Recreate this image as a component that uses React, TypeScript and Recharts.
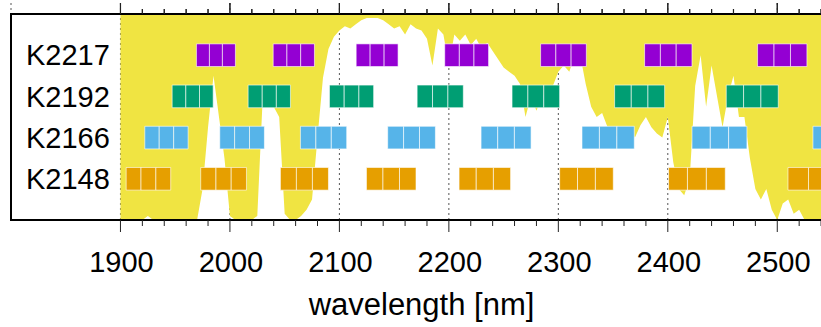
import {
  Area,
  CartesianGrid,
  ComposedChart,
  ReferenceArea,
  XAxis,
  YAxis
} from "recharts";

// atmospheric transmission sampled every 5 nm from 1900 nm (0 = opaque, 1 = clear)
const transmission = [
  0, 0, 0, 0, 0, 0.02, 0, 0, 0, 0, 0, 0, 0, 0, 0,
  0.15, 0.45, 0.7, 0.5, 0.3, 0.02, 0, 0, 0, 0, 0.02,
  0.6, 0.6, 0.55, 0.5, 0.03, 0, 0, 0.02, 0.05, 0.1,
  0.4, 0.69, 0.83, 0.89, 0.92, 0.94, 0.93, 0.95, 0.97, 0.98,
  0.98, 0.98, 0.97, 0.95, 0.93, 0.94, 0.9, 0.95, 0.93, 0.92,
  0.88, 0.75, 0.93, 0.9, 0.75, 0.9, 0.87, 0.9, 0.85, 0.88,
  0.83, 0.86, 0.82, 0.78, 0.74, 0.72, 0.7, 0.66, 0.5, 0.6,
  0.53, 0.6, 0.62, 0.65, 0.72, 0.75, 0.72, 0.8, 0.8, 0.66,
  0.55, 0.5, 0.52, 0.45, 0.42, 0.4, 0.42, 0.44, 0.4, 0.46,
  0.5, 0.45, 0.42, 0.4, 0.5, 0.28, 0.15, 0.12, 0.2, 0.65,
  0.8, 0.55, 0.75, 0.6, 0.45, 0.6, 0.7, 0.5, 0.5, 0.3,
  0.15, 0.1, 0.15, 0.05, 0, 0.08, 0.1, 0.03, 0.05, 0,
  0, 0, 0, 0, 0
];

const settings = ["K2148", "K2166", "K2192", "K2217"];
const settingColors = ["#E69F00", "#56B4E9", "#009E73", "#9400D3"];

// wavelength coverage [start, end] in nm of each detector group
const k2148 = [
  [1905.2, 1945.9], [1973.3, 2015.1], [2046.1, 2090.0], [2124.7, 2170.0],
  [2209.3, 2256.4], [2301.2, 2350.2], [2400.7, 2452.5], [2509.8, 2566.0]
];
const k2166 = [
  [1922.2, 1961.8], [1990.7, 2031.5], [2064.4, 2106.7], [2144.1, 2187.7],
  [2229.4, 2275.1], [2321.6, 2369.4], [2422.1, 2472.3], [2532.6, 2585.0]
];
const k2192 = [
  [1947.2, 1984.7], [2016.6, 2055.3], [2090.9, 2131.3], [2171.0, 2213.2],
  [2257.7, 2301.2], [2351.4, 2397.1], [2453.4, 2500.9]
];
const k2217 = [
  [1969.4, 2005.0], [2039.5, 2077.2], [2115.3, 2153.6], [2196.2, 2236.3],
  [2283.8, 2325.6], [2378.8, 2422.1], [2482.0, 2527.1]
];

const majorTicks = [1900, 2000, 2100, 2200, 2300, 2400, 2500];
const allTicks = [
  1900, 1920, 1940, 1960, 1980, 2000, 2020, 2040, 2060, 2080, 2100, 2120, 2140,
  2160, 2180, 2200, 2220, 2240, 2260, 2280, 2300, 2320, 2340, 2360, 2380, 2400,
  2420, 2440, 2460, 2480, 2500, 2520, 2540
];

const spectrum = transmission.map((t, i) => ({ wl: 1900 + i * 5, t }));
const rows = [k2148, k2166, k2192, k2217];

const font = '"Liberation Sans", Arial, Helvetica, sans-serif';

// the plot area runs 11 px above the frame so the top ticks sit inside it
const FRAME_H = 206;
const TICK_ROOM = 11;
const ROW_TOP = 5;
const ROW_MAX = (ROW_TOP * (FRAME_H + TICK_ROOM)) / FRAME_H;
const TRANS_MAX = (FRAME_H + TICK_ROOM) / FRAME_H;
const PX = ROW_TOP / FRAME_H; // rows-axis units per pixel
const NM = 750 / 821; // nm per pixel

function FrameTick(props: any) {
  const { x, y, payload } = props;
  const major = payload.value % 100 === 0;
  const top = y - FRAME_H;
  return (
    <g>
      <line x1={x} x2={x} y1={y} y2={y + (major ? 12 : 6)} stroke="#222" strokeWidth={1} />
      <line x1={x} x2={x} y1={top} y2={top - (major ? 11 : 5)} stroke="#222" strokeWidth={1} />
      {major && (
        <text x={x + 1} y={y + 31} dy="0.71em" textAnchor="middle" fontSize={29} fill="#000" fontFamily={font}>
          {payload.value}
        </text>
      )}
    </g>
  );
}

export default function App() {
  return (
    <div style={{ position: "absolute", left: 0, top: 0, width: 821, height: 327, overflow: "hidden", background: "#fff" }}>
      <ComposedChart
        width={840}
        height={327}
        data={spectrum}
        margin={{ top: 14 - TICK_ROOM, right: 8, bottom: 0, left: 11 }}
        style={{ fontFamily: font }}
      >
        <XAxis
          xAxisId="g"
          dataKey="wl"
          type="number"
          domain={[1800, 2550]}
          ticks={majorTicks}
          allowDataOverflow
          hide
        />
        <XAxis
          xAxisId="b"
          dataKey="wl"
          type="number"
          domain={[1800, 2550]}
          ticks={allTicks}
          interval={0}
          height={107}
          tickSize={0}
          tickMargin={0}
          tickLine={false}
          tick={<FrameTick />}
          axisLine={{ stroke: "#000", strokeWidth: 2 }}
          allowDataOverflow
          label={{ value: "wavelength [nm]", position: "insideBottom", offset: 12, fontSize: 31, fill: "#000" }}
        />
        <YAxis yAxisId="trans" type="number" domain={[0, TRANS_MAX]} hide allowDataOverflow />
        <YAxis
          yAxisId="rows"
          type="number"
          domain={[0, ROW_MAX]}
          ticks={[1, 2, 3, 4]}
          mirror
          tickSize={0}
          tickMargin={15}
          tickLine={false}
          axisLine={false}
          tickFormatter={(v) => settings[Number(v) - 1]}
          tick={{ fontSize: 29, fill: "#000" }}
          allowDataOverflow
        />
        <CartesianGrid
          xAxisId="g"
          yAxisId="rows"
          horizontal={false}
          stroke="#555"
          strokeDasharray="2 3"
        />
        <Area
          xAxisId="b"
          yAxisId="trans"
          dataKey="t"
          type="linear"
          baseValue={1}
          fill="#F0E442"
          fillOpacity={1}
          stroke="none"
          isAnimationActive={false}
        />
        {rows.map((groups, r) =>
          groups.flatMap(([a, b], g) =>
            [0, 1, 2].map((k) => (
              <ReferenceArea
                key={`${r}-${g}-${k}`}
                xAxisId="b"
                yAxisId="rows"
                x1={a + ((b - a) * k) / 3}
                x2={a + ((b - a) * (k + 1)) / 3}
                y1={r + 1 - 0.275}
                y2={r + 1 + 0.275}
                fill={settingColors[r]}
                fillOpacity={1}
                stroke="#ffffff"
                strokeOpacity={0.6}
                strokeWidth={1}
                ifOverflow="visible"
              />
            ))
          )
        )}
        {/* outward tick marks along the top of the frame */}
        {allTicks.map((v) => (
          <ReferenceArea
            key={`top-${v}`}
            xAxisId="b"
            yAxisId="rows"
            x1={v - 0.6 * NM}
            x2={v + 0.6 * NM}
            y1={ROW_TOP}
            y2={ROW_TOP + (v % 100 === 0 ? TICK_ROOM : 5) * PX}
            fill="#222"
            fillOpacity={1}
            stroke="none"
            ifOverflow="visible"
          />
        ))}
        {/* the frame */}
        <ReferenceArea
          xAxisId="b"
          yAxisId="rows"
          x1={1800}
          x2={2550}
          y1={0}
          y2={ROW_TOP}
          fill="none"
          stroke="#000"
          strokeWidth={2}
          ifOverflow="visible"
        />
      </ComposedChart>
    </div>
  );
}
